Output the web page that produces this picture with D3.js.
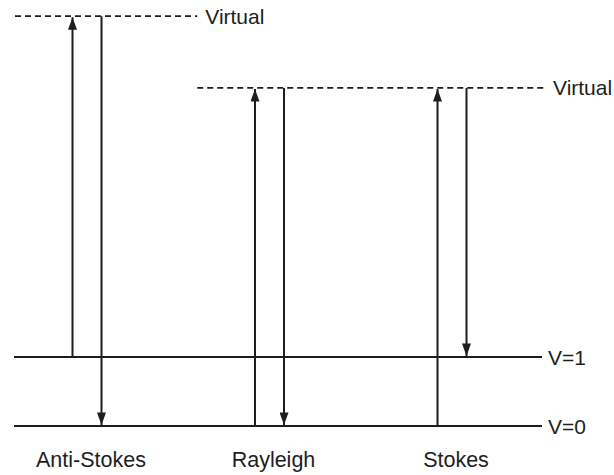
<!DOCTYPE html>
<html><head><meta charset="utf-8">
<script src="https://cdn.jsdelivr.net/npm/d3@7"></script>
<style>
html,body{margin:0;padding:0;background:#fff;}
svg{display:block;}
text{font-family:"Liberation Sans",Arial,Helvetica,sans-serif;fill:#1e1e1e;}
</style></head>
<body>
<svg id="c" width="614" height="475"></svg>
<script>
// Categories (scattering types)
const categories = ["Anti-Stokes", "Rayleigh", "Stokes"];
// Energy levels (relative units: V=0 -> 0, V=1 -> 1)
const levelNames = ["V=0", "V=1", "Virtual", "Virtual"];
const levelEnergies = [0, 1, 5.94, 4.9];
// Which virtual level each category reaches (index into levels)
const virtualLevelOf = [2, 3, 3];
// Transitions: start level -> virtual (up), virtual -> end level (down)
const upFrom = [1, 0, 0];
const downTo = [0, 0, 1];

const svg = d3.select("#c");
const ink = "#1e1e1e";

const y = d3.scaleLinear().domain([0, 1]).range([426, 357]);
const x = d3.scalePoint().domain(categories).range([87, 452]);
const off = 14.5;

// arrow marker (points along +x, auto-oriented)
const defs = svg.append("defs");
defs.append("marker").attr("id", "ah").attr("viewBox", "0 0 14 10")
  .attr("refX", 14).attr("refY", 5).attr("markerWidth", 14).attr("markerHeight", 9)
  .attr("markerUnits", "userSpaceOnUse").attr("orient", "auto")
  .append("path").attr("d", "M0,0 L14,5 L0,10 Z").attr("fill", ink);

// level lines
const mid = (x("Anti-Stokes") + x("Rayleigh")) / 2 + 19;
const levelExtent = [[14, 542], [14, 542], [15, mid], [mid, 545]];
levelEnergies.forEach((e, i) => {
  const virt = levelNames[i] === "Virtual";
  svg.append("line")
    .attr("x1", levelExtent[i][0]).attr("x2", levelExtent[i][1])
    .attr("y1", y(e)).attr("y2", y(e))
    .attr("stroke", ink)
    .attr("stroke-width", virt ? 1.8 : 2)
    .attr("stroke-dasharray", virt ? "6,4" : null);
  svg.append("text")
    .attr("x", levelExtent[i][1] + (virt ? 8 : 6))
    .attr("y", y(e))
    .attr("dy", "0.36em")
    .attr("font-size", 21)
    .text(levelNames[i]);
});

// transitions
categories.forEach((c, i) => {
  const vy = y(levelEnergies[virtualLevelOf[i]]);
  const cx = x(c);
  // up arrow
  svg.append("line")
    .attr("x1", cx - off).attr("x2", cx - off)
    .attr("y1", y(levelEnergies[upFrom[i]])).attr("y2", vy + 1)
    .attr("stroke", ink).attr("stroke-width", 2)
    .attr("marker-end", "url(#ah)");
  // down arrow
  svg.append("line")
    .attr("x1", cx + off).attr("x2", cx + off)
    .attr("y1", vy).attr("y2", y(levelEnergies[downTo[i]]) - 1)
    .attr("stroke", ink).attr("stroke-width", 2)
    .attr("marker-end", "url(#ah)");
  // label
  svg.append("text")
    .attr("x", cx + 4).attr("y", 467)
    .attr("text-anchor", "middle")
    .attr("font-size", 21.5)
    .text(c);
});
</script>
</body></html>
